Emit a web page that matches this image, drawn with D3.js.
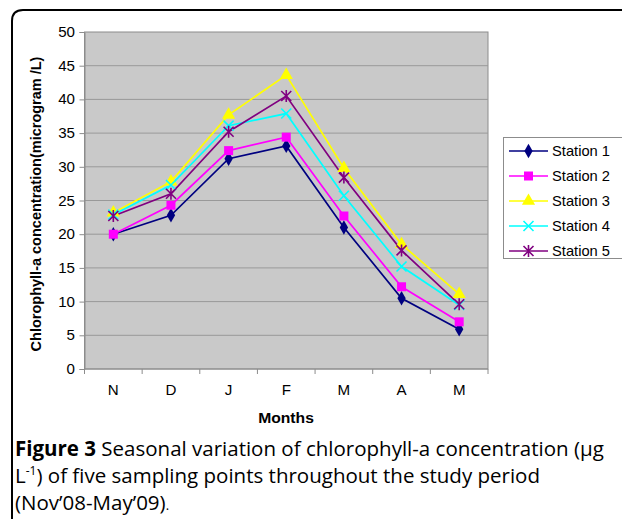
<!DOCTYPE html>
<html>
<head>
<meta charset="utf-8">
<script src="https://cdn.jsdelivr.net/npm/d3@7"></script>
<style>
  html, body { margin: 0; padding: 0; background: #fff; }
</style>
</head>
<body>
<script>
// data
const months = ["N", "D", "J", "F", "M", "A", "M"];
const stationNames = ["Station 1", "Station 2", "Station 3", "Station 4", "Station 5"];
const station1 = [20.0, 22.8, 31.2, 33.1, 21.0, 10.5, 5.9];
const station2 = [20.0, 24.3, 32.4, 34.4, 22.7, 12.2, 7.0];
const station3 = [23.2, 27.8, 37.7, 43.6, 29.8, 18.5, 11.1];
const station4 = [22.9, 27.3, 36.1, 37.9, 25.7, 15.2, 9.5];
const station5 = [22.7, 26.0, 35.2, 40.5, 28.4, 17.6, 9.6];
const yTicks = [0, 5, 10, 15, 20, 25, 30, 35, 40, 45, 50];

const series = [station1, station2, station3, station4, station5];
const colors = ["#000080", "#ff00ff", "#ffff00", "#00ffff", "#800080"];
const symbols = ["diamond", "square", "triangle", "x", "star"];

const W = 622, H = 519;
const FONT = "'Liberation Sans', Arial, sans-serif";
const svg = d3.select("body").append("svg")
    .attr("width", W).attr("height", H);

// outer frame (rounded top-left corner)
svg.append("path")
    .attr("d", `M12,${H} L12,21 Q12,10 23,10 L${W},10`)
    .attr("fill", "none")
    .attr("stroke", "#000")
    .attr("stroke-width", 2);

const plot = { left: 84.5, right: 488, top: 32, bottom: 369 };

const x = d3.scaleBand()
    .domain(d3.range(months.length))
    .range([plot.left, plot.right]);

const y = d3.scaleLinear()
    .domain([0, 50])
    .range([plot.bottom, plot.top]);

// the original chart was stretched a bit horizontally, so are its labels
function label(g, tx, ty, txt, opts = {}) {
    return g.append("text")
        .attr("transform", `translate(${tx},${ty}) scale(${opts.sx || 1.08},1)`)
        .attr("text-anchor", opts.anchor || "start")
        .style("font-family", FONT)
        .style("font-size", (opts.size || 14) + "px")
        .style("font-weight", opts.weight || "normal")
        .attr("fill", "#000")
        .text(txt);
}

// plot background
svg.append("rect")
    .attr("x", plot.left).attr("y", plot.top)
    .attr("width", plot.right - plot.left)
    .attr("height", plot.bottom - plot.top)
    .attr("fill", "#c9c9c9")
    .attr("stroke", "#8c8c8c")
    .attr("stroke-width", 1);

// gridlines
svg.append("g")
    .selectAll("line")
    .data(yTicks.filter(t => t > 0 && t < 50))
    .join("line")
    .attr("x1", plot.left).attr("x2", plot.right)
    .attr("y1", d => y(d)).attr("y2", d => y(d))
    .attr("stroke", "#999")
    .attr("stroke-width", 1);

// y axis
const yAxis = svg.append("g")
    .attr("transform", `translate(${plot.left},0)`)
    .call(d3.axisLeft(y).tickValues(yTicks).tickSize(5).tickFormat(""));
yAxis.select(".domain").attr("stroke", "#8c8c8c");
yAxis.selectAll(".tick line").attr("stroke", "#8c8c8c");
yTicks.forEach(t => label(svg, 75, y(t) + 5, String(t), { anchor: "end" }));

// x axis, ticks between categories
const xAxis = svg.append("g")
    .attr("transform", `translate(0,${plot.bottom})`);
xAxis.append("line")
    .attr("x1", plot.left).attr("x2", plot.right)
    .attr("stroke", "#8c8c8c");
xAxis.selectAll("line.tk")
    .data(d3.range(months.length + 1))
    .join("line")
    .attr("class", "tk")
    .attr("x1", i => plot.left + i * x.step())
    .attr("x2", i => plot.left + i * x.step())
    .attr("y1", 0).attr("y2", 5)
    .attr("stroke", "#8c8c8c");
months.forEach((m, i) => label(svg, x(i) + x.bandwidth() / 2, plot.bottom + 26, m, { anchor: "middle" }));

// axis titles
label(svg, 286, 423, "Months", { anchor: "middle", weight: "bold", sx: 1.12 });

svg.append("text")
    .attr("transform", "translate(41,204) rotate(-90)")
    .attr("text-anchor", "middle")
    .style("font-family", FONT)
    .style("font-size", "14.5px")
    .style("font-weight", "bold")
    .text("Chlorophyll-a concentration(microgram /L)");

// marker drawing
function drawMarker(g, type, color) {
    if (type === "diamond") {
        g.append("path").attr("d", d3.symbol(d3.symbolDiamond, 60)()).attr("fill", color);
    } else if (type === "square") {
        g.append("rect").attr("x", -4.5).attr("y", -4.5).attr("width", 9).attr("height", 9).attr("fill", color);
    } else if (type === "triangle") {
        g.append("path").attr("d", d3.symbol(d3.symbolTriangle, 75)()).attr("fill", color);
    } else if (type === "x") {
        g.append("path").attr("d", "M-5,-5L5,5M-5,5L5,-5")
            .attr("stroke", color).attr("stroke-width", 1.6).attr("fill", "none");
    } else if (type === "star") {
        g.append("path").attr("d", "M-5,-5L5,5M-5,5L5,-5M0,-6L0,6")
            .attr("stroke", color).attr("stroke-width", 1.6).attr("fill", "none");
    }
}

const line = d3.line()
    .x((d, i) => x(i) + x.bandwidth() / 2)
    .y(d => y(d));

series.forEach((vals, s) => {
    svg.append("path")
        .datum(vals)
        .attr("d", line)
        .attr("fill", "none")
        .attr("stroke", colors[s])
        .attr("stroke-width", 1.7);
});
series.forEach((vals, s) => {
    vals.forEach((v, i) => {
        const g = svg.append("g")
            .attr("transform", `translate(${x(i) + x.bandwidth() / 2},${y(v)})`);
        drawMarker(g, symbols[s], colors[s]);
    });
});

// legend
const legend = svg.append("g");
legend.append("rect")
    .attr("x", 503.5).attr("y", 137.5)
    .attr("width", 125).attr("height", 121)
    .attr("fill", "#fff")
    .attr("stroke", "#8c8c8c");
stationNames.forEach((name, s) => {
    const ly = 151 + s * 25;
    legend.append("line")
        .attr("x1", 509).attr("x2", 548)
        .attr("y1", ly).attr("y2", ly)
        .attr("stroke", colors[s]).attr("stroke-width", 1.7);
    drawMarker(legend.append("g").attr("transform", `translate(528.5,${ly})`), symbols[s], colors[s]);
    label(legend, 552, ly + 5, name, { sx: 1.05 });
});

// caption
const cap = svg.append("text")
    .style("font-family", "'Open Sans', 'Noto Sans', sans-serif")
    .style("font-size", "20.5px")
    .attr("fill", "#000");
const l1 = cap.append("tspan").attr("x", 15).attr("y", 456);
l1.append("tspan").style("font-weight", "bold").text("Figure 3");
l1.append("tspan").text(" Seasonal variation of chlorophyll-a concentration (µg");
const l2 = cap.append("tspan").attr("x", 15).attr("y", 483);
l2.append("tspan").text("L");
l2.append("tspan").attr("dy", -8).style("font-size", "12px").text("-1");
l2.append("tspan").attr("dy", 8).text(") of five sampling points throughout the study period");
const l3 = cap.append("tspan").attr("x", 15).attr("y", 510);
l3.append("tspan").text("(Nov’08-May’09)");
l3.append("tspan").style("font-size", "13px").text(".");
</script>
</body>
</html>
